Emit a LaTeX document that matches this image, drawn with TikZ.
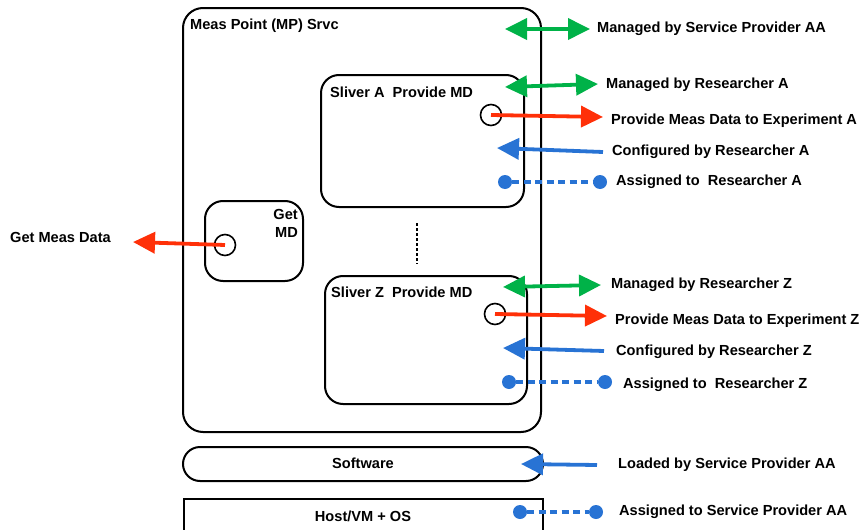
\documentclass[tikz,border=0pt]{standalone}
\usepackage{fontspec}
\setmainfont{Liberation Sans}
\usetikzlibrary{arrows.meta}
\definecolor{mgreen}{RGB}{0,178,72}
\definecolor{mred}{RGB}{255,48,8}
\definecolor{mblue}{RGB}{40,115,212}
\begin{document}
\begin{tikzpicture}[x=1pt,y=-1pt,
  box/.style={draw=black, line width=2pt, rounded corners=18pt, inner sep=0pt},
  port/.style={draw=black, line width=1.6pt, circle, minimum size=21pt, inner sep=0pt},
  lbl/.style={anchor=west, font=\fontsize{14.6}{17}\selectfont\bfseries, inner sep=0pt},
  flow/.style={line width=3.8pt, -{Triangle[length=22pt,width=21pt]}},
  both/.style={line width=3.8pt, {Triangle[length=22pt,width=21pt]}-{Triangle[length=22pt,width=21pt]}},
  assign/.style={draw=mblue, line width=3.4pt, dash pattern=on 7pt off 4.5pt},
  enddot/.style={circle, fill=mblue, minimum size=14pt, inner sep=0pt}
]
\useasboundingbox (0,0) rectangle (860,530);
\clip (0,0) rectangle (860,530);

% containers
\node[box, rounded corners=20pt, minimum width=358pt, minimum height=424pt] (mp) at (362,220) {};
\node[lbl] (mpt) at (190,26) {Meas Point (MP) Srvc};

\node[box, minimum width=203pt, minimum height=132pt] (sa) at (422.5,141) {};
\node[lbl] (sat) at (330,92) {Sliver A\ \ Provide MD};
\node[port] (pa) at (491,115) {};

\node[box, minimum width=98pt, minimum height=80pt] (gm) at (254,241) {};
\node[lbl, anchor=north east, align=right, font=\fontsize{14.6}{18}\selectfont\bfseries] (gmt) at (298,209) {Get\\MD};
\node[port] (pg) at (225,245) {};

\node[box, minimum width=202pt, minimum height=128pt] (sz) at (426,340) {};
\node[lbl] (szt) at (331,292) {Sliver Z\ \ Provide MD};
\node[port] (pz) at (495,314) {};

\coordinate (d1) at (417,223);
\coordinate (d2) at (417,264);
\draw[line width=1.3pt, dash pattern=on 3pt off 2pt] (d1) -- (d2);

\node[box, rounded corners=17pt, minimum width=360pt, minimum height=34pt] (sw) at (363,464) {};
\node[lbl, anchor=center] (swt) at (363,463) {Software};

\node[draw=black, line width=2pt, minimum width=359pt, minimum height=50pt, inner sep=0pt] (host) at (363.5,524) {};
\node[lbl, anchor=center] (hostt) at (363,516) {Host/VM + OS};

% service provider
\coordinate (g1a) at (505,29);
\coordinate (g1b) at (590,29);
\draw[both, mgreen] (g1a) -- (g1b);
\node[lbl] (l1) at (597,29) {Managed by Service Provider AA};

% sliver A
\coordinate (g2a) at (505,87);
\coordinate (g2b) at (598,84);
\draw[both, mgreen] (g2a) -- (g2b);
\node[lbl] (l2) at (606,85) {Managed by Researcher A};

\coordinate (r2) at (603,117);
\draw[flow, mred] (pa.center) -- (r2);
\node[lbl] (l3) at (611,121) {Provide Meas Data to Experiment A};

\coordinate (b2a) at (603,152);
\coordinate (b2b) at (497,148);
\draw[flow, mblue] (b2a) -- (b2b);
\node[lbl] (l4) at (612,152) {Configured by Researcher A};

\node[enddot] (a2a) at (505,182) {};
\node[enddot] (a2b) at (600,182) {};
\draw[assign] (a2a) -- (a2b);
\node[lbl] (l5) at (616,182) {Assigned to\ \ Researcher A};

% get measurement data
\coordinate (r1) at (133,242);
\draw[flow, mred] (pg.center) -- (r1);
\node[lbl] (l0) at (10,237) {Get Meas Data};

% sliver Z
\coordinate (g3a) at (503,287);
\coordinate (g3b) at (601,285);
\draw[both, mgreen] (g3a) -- (g3b);
\node[lbl] (l6) at (611,285) {Managed by Researcher Z};

\coordinate (r3) at (607,316);
\draw[flow, mred] (pz.center) -- (r3);
\node[lbl] (l7) at (615,321) {Provide Meas Data to Experiment Z};

\coordinate (b3a) at (604,351);
\coordinate (b3b) at (503,348);
\draw[flow, mblue] (b3a) -- (b3b);
\node[lbl] (l8) at (616,352) {Configured by Researcher Z};

\node[enddot] (a3a) at (509,382) {};
\node[enddot] (a3b) at (605,382) {};
\draw[assign] (a3a) -- (a3b);
\node[lbl] (l9) at (623,385) {Assigned to\ \ Researcher Z};

% software and host
\coordinate (b4a) at (597,465);
\coordinate (b4b) at (521,464);
\draw[flow, mblue] (b4a) -- (b4b);
\node[lbl] (l10) at (618,465) {Loaded by Service Provider AA};

\node[enddot] (a4a) at (520,512) {};
\node[enddot] (a4b) at (596,512) {};
\draw[assign] (a4a) -- (a4b);
\node[lbl] (l11) at (619,512) {Assigned to Service Provider AA};
\end{tikzpicture}
\end{document}
